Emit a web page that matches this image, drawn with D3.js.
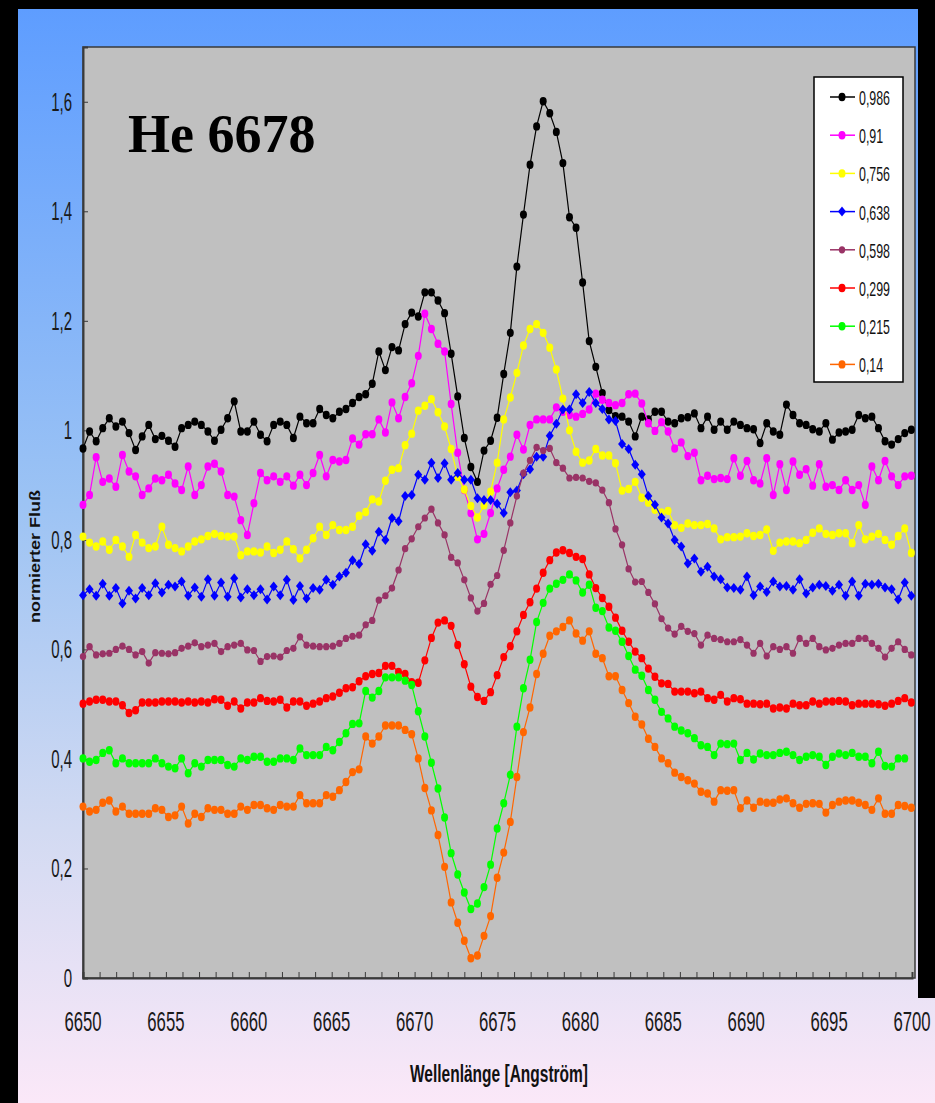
<!DOCTYPE html>
<html>
<head>
<meta charset="utf-8">
<script src="https://cdn.jsdelivr.net/npm/d3@7/dist/d3.min.js"></script>
<style>
  html, body { margin: 0; padding: 0; background: #000; }
  svg { display: block; }
</style>
</head>
<body>
<div id="content"></div>
<script>
// wavelength grid of the spectra (Angström)
const lambdaStart = 6650;
const lambdaStep = 0.3965;

const phaseLabels = ["0,986", "0,91", "0,756", "0,638", "0,598", "0,299", "0,215", "0,14"];
const seriesColors = ["#000000", "#ff00ff", "#ffff00", "#0000ff", "#993366", "#ff0000", "#00ff00", "#ff6600"];
const seriesMarkers = ["circle", "circle", "circle", "diamond", "small", "circle", "circle", "circle"];

const flux0986 = [
  0.967,0.998,0.980,1.004,1.022,1.007,1.016,0.995,0.964,0.989,
  1.010,0.984,0.990,0.981,0.970,1.004,1.010,1.016,1.010,0.998,
  0.981,1.001,1.022,1.053,0.998,0.998,1.016,0.992,0.980,1.010,
  1.016,1.010,0.986,1.025,1.013,1.013,1.039,1.028,1.022,1.034,
  1.039,1.050,1.061,1.066,1.085,1.144,1.110,1.152,1.146,1.194,
  1.215,1.208,1.252,1.252,1.237,1.214,1.140,1.062,0.986,0.933,
  0.906,0.963,0.981,1.023,1.103,1.178,1.299,1.394,1.485,1.555,
  1.601,1.579,1.545,1.488,1.389,1.370,1.270,1.163,1.116,1.068,
  1.037,1.026,1.025,1.016,0.989,1.025,1.020,1.034,1.034,1.016,
  1.013,1.022,1.024,1.031,1.004,1.025,1.001,1.016,1.001,1.016,
  1.010,1.004,1.002,0.977,1.013,0.998,0.992,1.047,1.028,1.013,
  1.010,1.002,0.998,1.013,0.983,0.996,0.998,1.001,1.028,1.022,
  1.025,1.004,0.980,0.974,0.984,0.995,1.001];

const flux091 = [
  0.864,0.882,0.951,0.906,0.912,0.897,0.955,0.925,0.916,0.882,
  0.894,0.912,0.909,0.919,0.903,0.891,0.934,0.882,0.900,0.934,
  0.939,0.925,0.882,0.879,0.836,0.809,0.867,0.922,0.909,0.916,
  0.906,0.916,0.899,0.919,0.900,0.922,0.955,0.916,0.946,0.943,
  0.946,0.985,0.974,0.993,0.993,1.020,0.996,1.051,1.022,1.061,
  1.086,1.136,1.213,1.185,1.158,1.144,1.048,0.959,0.891,0.849,
  0.801,0.811,0.849,0.894,0.928,0.952,0.992,0.965,1.010,1.020,
  1.020,1.020,1.042,1.034,1.028,1.025,1.030,1.038,1.067,1.056,
  1.050,1.046,1.050,1.066,1.067,1.049,1.013,0.999,1.015,0.998,
  0.967,0.978,0.953,0.959,0.909,0.917,0.911,0.913,0.911,0.949,
  0.917,0.944,0.909,0.903,0.949,0.882,0.938,0.891,0.943,0.919,
  0.929,0.899,0.938,0.897,0.900,0.891,0.909,0.891,0.900,0.864,
  0.934,0.909,0.944,0.916,0.900,0.916,0.917];

const flux0756 = [
  0.806,0.795,0.788,0.797,0.782,0.800,0.788,0.769,0.809,0.795,
  0.785,0.788,0.824,0.791,0.785,0.779,0.788,0.797,0.801,0.807,
  0.811,0.807,0.806,0.806,0.772,0.779,0.779,0.777,0.788,0.776,
  0.782,0.797,0.783,0.766,0.782,0.803,0.824,0.809,0.827,0.818,
  0.818,0.824,0.844,0.851,0.874,0.870,0.908,0.928,0.931,0.973,
  0.994,1.036,1.045,1.057,1.033,1.007,0.966,0.915,0.892,0.862,
  0.841,0.863,0.888,0.941,1.020,1.060,1.105,1.155,1.185,1.194,
  1.178,1.151,1.111,1.058,1.000,0.961,0.941,0.945,0.966,0.954,
  0.954,0.940,0.890,0.893,0.906,0.877,0.868,0.855,0.850,0.853,
  0.827,0.822,0.830,0.827,0.827,0.829,0.821,0.801,0.805,0.805,
  0.806,0.812,0.807,0.809,0.819,0.780,0.795,0.797,0.797,0.794,
  0.800,0.813,0.821,0.811,0.809,0.812,0.812,0.794,0.827,0.801,
  0.806,0.811,0.800,0.791,0.807,0.821,0.776];

const flux0638 = [
  0.699,0.710,0.698,0.720,0.698,0.712,0.684,0.707,0.693,0.712,
  0.699,0.721,0.704,0.718,0.715,0.724,0.698,0.713,0.696,0.728,
  0.698,0.722,0.696,0.730,0.695,0.710,0.699,0.710,0.691,0.715,
  0.699,0.727,0.690,0.716,0.693,0.712,0.709,0.727,0.718,0.733,
  0.740,0.763,0.756,0.792,0.780,0.815,0.800,0.840,0.834,0.880,
  0.882,0.919,0.910,0.941,0.913,0.940,0.910,0.922,0.910,0.910,
  0.876,0.873,0.873,0.866,0.849,0.887,0.890,0.920,0.929,0.952,
  0.952,0.990,1.012,1.038,1.038,1.066,1.050,1.070,1.050,1.039,
  1.020,1.017,0.975,0.966,0.937,0.920,0.880,0.864,0.841,0.830,
  0.800,0.788,0.757,0.766,0.742,0.751,0.733,0.728,0.713,0.712,
  0.709,0.733,0.699,0.715,0.705,0.724,0.715,0.716,0.709,0.728,
  0.702,0.713,0.718,0.716,0.707,0.718,0.698,0.724,0.698,0.720,
  0.718,0.720,0.713,0.710,0.691,0.722,0.698];

const flux0598 = [
  0.587,0.605,0.590,0.592,0.593,0.600,0.606,0.600,0.590,0.596,
  0.575,0.594,0.593,0.592,0.594,0.602,0.606,0.612,0.605,0.608,
  0.611,0.596,0.605,0.608,0.611,0.599,0.598,0.578,0.587,0.588,
  0.586,0.598,0.602,0.623,0.608,0.606,0.605,0.605,0.606,0.611,
  0.620,0.624,0.626,0.645,0.653,0.690,0.698,0.712,0.745,0.784,
  0.802,0.824,0.840,0.856,0.831,0.809,0.768,0.758,0.727,0.694,
  0.670,0.684,0.719,0.735,0.781,0.831,0.880,0.922,0.945,0.969,
  0.963,0.967,0.941,0.931,0.913,0.914,0.913,0.907,0.904,0.891,
  0.868,0.820,0.791,0.747,0.723,0.724,0.704,0.683,0.656,0.639,
  0.628,0.642,0.633,0.629,0.608,0.626,0.620,0.618,0.614,0.614,
  0.618,0.608,0.593,0.611,0.588,0.605,0.600,0.605,0.593,0.620,
  0.611,0.620,0.605,0.599,0.602,0.608,0.611,0.611,0.620,0.620,
  0.611,0.602,0.586,0.602,0.614,0.600,0.590];

const flux0299 = [
  0.501,0.505,0.508,0.508,0.505,0.505,0.498,0.484,0.489,0.503,
  0.503,0.503,0.505,0.505,0.505,0.503,0.505,0.503,0.505,0.503,
  0.509,0.508,0.497,0.505,0.492,0.503,0.503,0.511,0.506,0.505,
  0.508,0.494,0.505,0.505,0.497,0.501,0.505,0.511,0.514,0.521,
  0.529,0.531,0.542,0.551,0.555,0.557,0.570,0.570,0.559,0.555,
  0.540,0.539,0.580,0.621,0.649,0.653,0.643,0.608,0.573,0.532,
  0.513,0.506,0.522,0.553,0.586,0.606,0.633,0.663,0.686,0.711,
  0.740,0.763,0.777,0.781,0.776,0.769,0.765,0.737,0.712,0.694,
  0.678,0.658,0.634,0.614,0.596,0.584,0.565,0.550,0.538,0.537,
  0.523,0.523,0.523,0.520,0.523,0.511,0.508,0.517,0.505,0.511,
  0.509,0.501,0.501,0.500,0.501,0.492,0.494,0.492,0.501,0.498,
  0.498,0.505,0.501,0.505,0.505,0.506,0.505,0.498,0.501,0.501,
  0.501,0.500,0.497,0.501,0.506,0.511,0.503];

const flux0215 = [
  0.401,0.395,0.398,0.411,0.416,0.392,0.401,0.392,0.392,0.392,
  0.392,0.401,0.392,0.386,0.383,0.401,0.374,0.392,0.386,0.398,
  0.398,0.398,0.389,0.386,0.401,0.398,0.404,0.404,0.395,0.395,
  0.401,0.401,0.398,0.419,0.407,0.407,0.407,0.422,0.416,0.431,
  0.447,0.464,0.465,0.524,0.512,0.524,0.549,0.549,0.549,0.543,
  0.535,0.487,0.441,0.393,0.346,0.293,0.228,0.189,0.156,0.126,
  0.136,0.166,0.207,0.273,0.319,0.371,0.459,0.529,0.581,0.650,
  0.685,0.711,0.720,0.727,0.737,0.726,0.704,0.718,0.676,0.670,
  0.640,0.634,0.614,0.588,0.563,0.552,0.526,0.508,0.486,0.474,
  0.459,0.452,0.447,0.438,0.425,0.422,0.407,0.428,0.427,0.428,
  0.398,0.411,0.399,0.410,0.407,0.407,0.411,0.413,0.407,0.398,
  0.404,0.407,0.404,0.389,0.404,0.410,0.407,0.411,0.404,0.404,
  0.392,0.413,0.387,0.386,0.401,0.401];

const flux014 = [
  0.313,0.304,0.307,0.320,0.324,0.304,0.313,0.300,0.300,0.300,
  0.300,0.310,0.307,0.294,0.297,0.313,0.282,0.300,0.294,0.310,
  0.307,0.307,0.300,0.300,0.313,0.307,0.316,0.316,0.310,0.307,
  0.316,0.313,0.313,0.334,0.319,0.319,0.319,0.334,0.331,0.343,
  0.358,0.376,0.381,0.441,0.428,0.441,0.461,0.461,0.461,0.453,
  0.445,0.401,0.347,0.306,0.261,0.203,0.138,0.101,0.068,0.036,
  0.041,0.077,0.113,0.183,0.229,0.285,0.367,0.449,0.494,0.555,
  0.592,0.625,0.633,0.641,0.653,0.629,0.616,0.633,0.592,0.584,
  0.551,0.551,0.526,0.502,0.477,0.463,0.437,0.422,0.401,0.392,
  0.375,0.367,0.361,0.355,0.340,0.337,0.322,0.343,0.342,0.343,
  0.310,0.324,0.311,0.322,0.320,0.320,0.326,0.328,0.319,0.311,
  0.318,0.319,0.318,0.302,0.316,0.322,0.324,0.324,0.320,0.316,
  0.307,0.328,0.300,0.300,0.316,0.314,0.311];

const yTickValues = [0, 0.2, 0.4, 0.6, 0.8, 1, 1.2, 1.4, 1.6];
const yTickLabels = ["0", "0,2", "0,4", "0,6", "0,8", "1", "1,2", "1,4", "1,6"];
const xTickValues = [6650, 6655, 6660, 6665, 6670, 6675, 6680, 6685, 6690, 6695, 6700];

const fluxes = [flux0986, flux091, flux0756, flux0638, flux0598, flux0299, flux0215, flux014];
const series = fluxes.map((vals, k) => ({
  label: phaseLabels[k],
  color: seriesColors[k],
  marker: seriesMarkers[k],
  points: vals.map((v, i) => ({ wl: lambdaStart + i * lambdaStep, flux: v })),
}));

const W = 935, H = 1103;
const svg = d3.select("#content").append("svg")
  .attr("width", W).attr("height", H);

// background gradient
const defs = svg.append("defs");
const grad = defs.append("linearGradient")
  .attr("id", "bg").attr("x1", 0).attr("y1", 0).attr("x2", 0).attr("y2", 1);
grad.append("stop").attr("offset", "0%").attr("stop-color", "#5e9dff");
grad.append("stop").attr("offset", "45%").attr("stop-color", "#9cc3f4");
grad.append("stop").attr("offset", "75%").attr("stop-color", "#d2daf2");
grad.append("stop").attr("offset", "100%").attr("stop-color", "#fbe8f8");

svg.append("rect").attr("width", W).attr("height", H).attr("fill", "#000");
svg.append("rect")
  .attr("x", 18).attr("y", 9).attr("width", W - 18).attr("height", H - 9)
  .attr("fill", "url(#bg)");
// black frame on the right, it stops above the tick labels
svg.append("rect")
  .attr("x", 918).attr("y", 0).attr("width", W - 918).attr("height", 998)
  .attr("fill", "#000");

const plot = { left: 83, right: 912, top: 47, bottom: 978 };

const x = d3.scaleLinear().domain([6650, 6700]).range([plot.left, plot.right]);
const y = d3.scaleLinear().domain([0, 1.7]).range([plot.bottom, plot.top]);

// plot area
svg.append("rect")
  .attr("x", plot.left).attr("y", plot.top)
  .attr("width", plot.right + 3 - plot.left).attr("height", plot.bottom - plot.top)
  .attr("fill", "#c0c0c0")
  .attr("stroke", "#3a3a3a").attr("stroke-width", 1.5);

// x axis: minor ticks each Angström, labels each 5
const xAxis = svg.append("g")
  .attr("class", "x-axis")
  .attr("transform", `translate(0,${plot.bottom})`)
  .call(d3.axisBottom(x).ticks(50).tickSize(-6).tickFormat(""));
xAxis.select(".domain").attr("stroke", "#3a3a3a").attr("stroke-width", 2);
xAxis.selectAll(".tick line").attr("stroke", "#3a3a3a");

svg.append("g")
  .selectAll("text")
  .data(xTickValues)
  .enter()
  .append("text")
  .attr("transform", (d) => `translate(${x(d)},1031) scale(0.62,1)`)
  .attr("text-anchor", "middle")
  .style("font-family", "Liberation Sans, Arial, sans-serif")
  .style("font-size", "27px")
  .attr("fill", "#1a1a1a")
  .text((d) => d);

// y axis
const yAxis = svg.append("g")
  .attr("class", "y-axis")
  .attr("transform", `translate(${plot.left},0)`)
  .call(d3.axisLeft(y).tickValues(yTickValues).tickSize(-5).tickFormat(""));
yAxis.select(".domain").attr("stroke", "#3a3a3a").attr("stroke-width", 2);
yAxis.selectAll(".tick line").attr("stroke", "#3a3a3a");

svg.append("g")
  .selectAll("text")
  .data(yTickValues)
  .enter()
  .append("text")
  .attr("transform", (d) => `translate(72,${y(d) + 9}) scale(0.6,1)`)
  .attr("text-anchor", "end")
  .style("font-family", "Liberation Sans, Arial, sans-serif")
  .style("font-size", "25px")
  .attr("fill", "#1a1a1a")
  .text((d, i) => yTickLabels[i]);

// axis titles
svg.append("text")
  .attr("x", 410).attr("y", 1082)
  .attr("textLength", 178).attr("lengthAdjust", "spacingAndGlyphs")
  .style("font-family", "Liberation Sans, Arial, sans-serif")
  .style("font-size", "23px").style("font-weight", "bold")
  .attr("fill", "#111")
  .text("Wellenlänge [Angström]");

svg.append("text")
  .attr("transform", "translate(40,623) rotate(-90)")
  .attr("textLength", 133).attr("lengthAdjust", "spacingAndGlyphs")
  .style("font-family", "Liberation Sans, Arial, sans-serif")
  .style("font-size", "15px").style("font-weight", "bold")
  .attr("fill", "#111")
  .text("normierter Fluß");

// chart title
svg.append("text")
  .attr("x", 128).attr("y", 152)
  .style("font-family", "Liberation Serif, Times New Roman, serif")
  .style("font-size", "54px").style("font-weight", "bold")
  .attr("fill", "#000")
  .text("He 6678");

// series
const line = d3.line().x((d) => x(d.wl)).y((d) => y(d.flux));
const diamond = (cx, cy) => `M${cx},${cy - 5}L${cx + 4},${cy}L${cx},${cy + 5}L${cx - 4},${cy}Z`;

function drawMarkers(g, pts, s) {
  if (s.marker === "diamond") {
    g.selectAll("path.mk").data(pts).enter().append("path")
      .attr("class", "mk")
      .attr("d", (d) => diamond(x(d.wl), y(d.flux)))
      .attr("fill", s.color);
  } else {
    g.selectAll("ellipse").data(pts).enter().append("ellipse")
      .attr("cx", (d) => x(d.wl)).attr("cy", (d) => y(d.flux))
      .attr("rx", s.marker === "small" ? 3.2 : 3.5)
      .attr("ry", s.marker === "small" ? 3.6 : 4.2)
      .attr("fill", s.color);
  }
}

series.forEach((s) => {
  const g = svg.append("g").attr("class", "serie");
  g.append("path")
    .datum(s.points)
    .attr("d", line)
    .attr("fill", "none")
    .attr("stroke", s.color)
    .attr("stroke-width", 1.2);
  drawMarkers(g, s.points, s);
});

// legend
const legend = svg.append("g").attr("transform", "translate(814,77)");
legend.append("rect")
  .attr("width", 89).attr("height", 305)
  .attr("fill", "#fff").attr("stroke", "#000").attr("stroke-width", 1.5);

series.forEach((s, i) => {
  const cy = 20 + i * 38.2;
  const item = legend.append("g").attr("class", "legend-item");
  item.append("line")
    .attr("x1", 16).attr("x2", 41).attr("y1", cy).attr("y2", cy)
    .attr("stroke", s.color).attr("stroke-width", 1.5);
  drawMarkers(item, [{ wl: 0, flux: 0 }], s);
  item.select(s.marker === "diamond" ? "path.mk" : "ellipse")
    .attr("cx", 28).attr("cy", cy)
    .attr("d", s.marker === "diamond" ? diamond(28, cy) : null);
  item.append("text")
    .attr("transform", `translate(45,${cy + 8}) scale(0.62,1)`)
    .style("font-family", "Liberation Sans, Arial, sans-serif")
    .style("font-size", "20px")
    .attr("fill", "#111")
    .text(s.label);
});
</script>
</body>
</html>
